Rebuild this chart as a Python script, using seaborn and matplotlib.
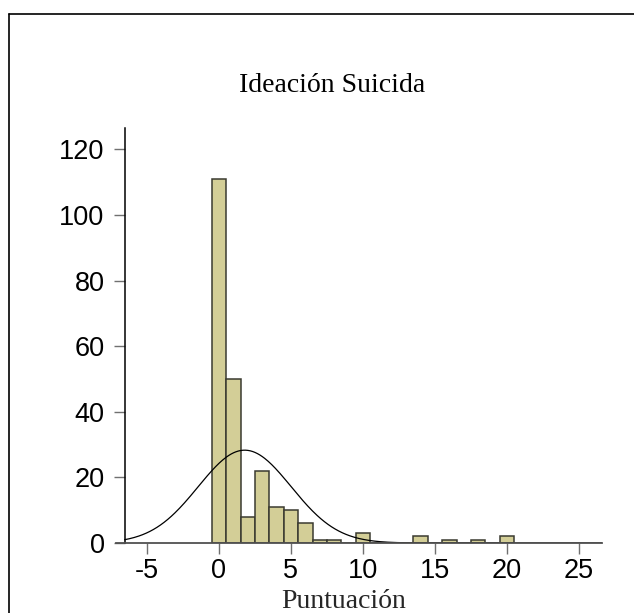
import numpy as np
import pandas as pd
import matplotlib
matplotlib.use("Agg")
import matplotlib.pyplot as plt
from matplotlib.lines import Line2D
import seaborn as sns

# Data (score -> frequency)
scores = [0, 1, 2, 3, 4, 5, 6, 7, 8, 10, 14, 16, 18, 20]
counts = [111, 50, 8, 22, 11, 10, 6, 1, 1, 3, 2, 1, 1, 2]
y_ticks = [0, 20, 40, 60, 80, 100, 120]
x_ticks = [-5, 0, 5, 10, 15, 20, 25]

data = pd.DataFrame({"Puntuacion": scores, "n": counts})

sns.set_style("ticks")
plt.rcParams["font.family"] = ["Liberation Sans", "DejaVu Sans"]

fig = plt.figure(figsize=(6.34, 6.13), dpi=100)
ax = fig.add_axes([116 / 634, 70 / 613, 486 / 634, 415 / 613])

sns.histplot(data=data, x="Puntuacion", weights="n", discrete=True,
             color="#D3CE97", edgecolor="#3a3a30", linewidth=1.1,
             alpha=1, ax=ax)

# normal curve fitted to the same data
vals = np.repeat(scores, counts)
mu, sd = vals.mean(), vals.std(ddof=1)
xs = np.linspace(-6.55, 26.6, 400)
ys = len(vals) * np.exp(-0.5 * ((xs - mu) / sd) ** 2) / (sd * np.sqrt(2 * np.pi))
sns.lineplot(x=xs, y=ys, color="black", linewidth=0.9, ax=ax)

ax.set_xlim(-7.15, 26.6)
ax.set_ylim(0, 126.5)
ax.set_xticks(x_ticks)
ax.set_yticks(y_ticks)
ax.set_xticklabels([str(t) for t in x_ticks])
ax.set_yticklabels([str(t) for t in y_ticks])
ax.spines["top"].set_visible(False)
ax.spines["right"].set_visible(False)
ax.spines["left"].set_position(("data", -6.55))
ax.spines["left"].set_color("black")
ax.spines["left"].set_linewidth(1.1)
ax.spines["bottom"].set_color("#505050")
ax.spines["bottom"].set_linewidth(1.3)
ax.tick_params(axis="both", direction="out", length=8, width=1,
               color="#707070", labelsize=19.5, labelcolor="black")
ax.tick_params(axis="y", pad=6.5)
ax.tick_params(axis="x", pad=3)
ax.set_ylabel("")
ax.set_xlabel("Puntuación", family=["Liberation Serif", "DejaVu Serif"],
              fontsize=20)
ax.xaxis.set_label_coords((343.5 - 116) / 486, -46 / 415)

fig.text(331.7 / 634, 1 - 86 / 613, "Ideación Suicida",
         family=["Liberation Serif", "DejaVu Serif"], fontsize=20,
         color="black", ha="center", va="center")

# outer frame (only top and left edges are inside the picture)
fig.add_artist(Line2D([8.5 / 634, 8.5 / 634], [0, 1 - 13.5 / 613],
                      transform=fig.transFigure, color="black", lw=1.2))
fig.add_artist(Line2D([8.5 / 634, 1], [1 - 13.5 / 613, 1 - 13.5 / 613],
                      transform=fig.transFigure, color="black", lw=1.2))

fig.savefig("out.png", dpi=100)
